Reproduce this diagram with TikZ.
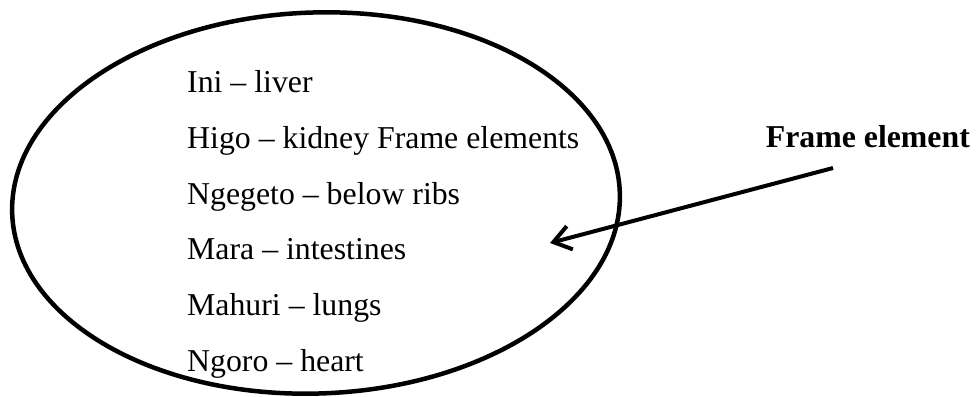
\documentclass[tikz,border=0pt]{standalone}
\usepackage{fontspec}
\setmainfont{Liberation Serif}
\usetikzlibrary{arrows.meta}
\begin{document}
\begin{tikzpicture}[x=1pt,y=1pt,
  item/.style={anchor=base west, inner sep=0pt, font=\fontsize{31.8}{38}\selectfont},
  title/.style={anchor=base east, inner sep=0pt, font=\fontsize{31.8}{38}\selectfont\bfseries},
  ring/.style={line width=4.5pt},
  pointer/.style={line width=4pt, -{Straight Barb[length=17pt,width=24pt,line width=4pt]}}]
\useasboundingbox (0,0) rectangle (976,396);
\coordinate (c) at (316,193);
\draw[ring, rotate around={2:(c)}] (c) ellipse [x radius=304, y radius=190.5];
\node[item] (n1) at (187,303) {Ini – liver};
\node[item] (n2) at (187,247.4) {Higo – kidney Frame elements};
\node[item] (n3) at (187,191.8) {Ngegeto – below ribs};
\node[item] (n4) at (187,136.2) {Mara – intestines};
\node[item] (n5) at (187,80.6) {Mahuri – lungs};
\node[item] (n6) at (187,25) {Ngoro – heart};
\node[title] (fe) at (970,248) {Frame element};
\coordinate (tail) at (833,228);
\coordinate (tip) at (550,153);
\draw[pointer] (tail) -- (tip);
\end{tikzpicture}
\end{document}
